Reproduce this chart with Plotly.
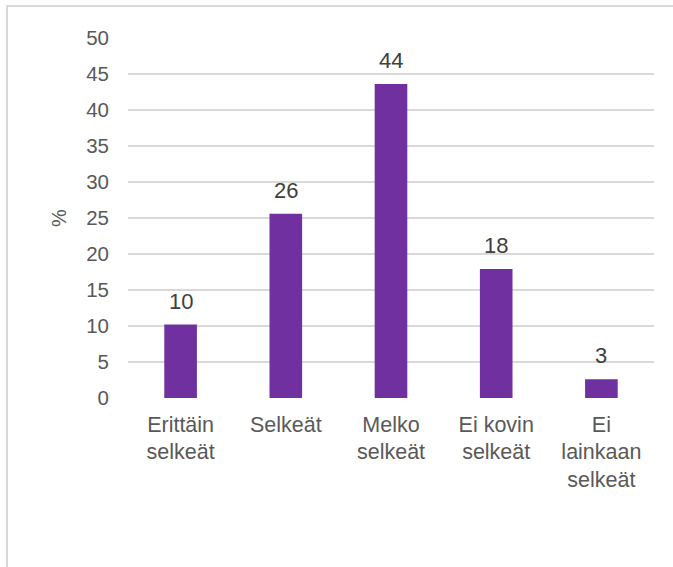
import plotly.graph_objects as go

categories = ["Erittäin<br>selkeät", "Selkeät", "Melko<br>selkeät", "Ei kovin<br>selkeät", "Ei<br>lainkaan<br>selkeät"]
values = [10.2, 25.6, 43.6, 17.9, 2.6]
y_ticks = [0, 5, 10, 15, 20, 25, 30, 35, 40, 45, 50]

W, H = 673, 567
L, R, T, B = 128, 19, 38, 169
pw, ph = W - L - R, H - T - B

fig = go.Figure(
    go.Bar(
        x=categories,
        y=values,
        marker=dict(color="#7030A0", line=dict(width=0)),
        width=0.31,
        hovertemplate="%{y}<extra></extra>",
    )
)

# value labels above each bar
for cat, val in zip(categories, values):
    fig.add_annotation(
        x=cat, y=val, text=f"{val:.0f}",
        showarrow=False, yanchor="bottom", yshift=9,
        font=dict(family="Liberation Sans, Arial", size=22, color="#404040"),
    )

# light frame around the chart area (top and left edges visible)
fig.add_shape(
    type="rect", xref="paper", yref="paper",
    x0=(7 - L) / pw, x1=(W + 20 - L) / pw,
    y0=-(B + 20) / ph, y1=(H - B - 6) / ph,
    line=dict(color="#d9d9d9", width=2),
    fillcolor="rgba(0,0,0,0)", layer="below",
)

fig.update_layout(
    width=W, height=H,
    margin=dict(l=L, r=R, t=T, b=B, autoexpand=False),
    paper_bgcolor="white", plot_bgcolor="white",
    showlegend=False,
    font=dict(family="Liberation Sans, Arial", color="#595959"),
    xaxis=dict(
        showgrid=False, showline=False, ticks="", zeroline=False,
        tickfont=dict(size=21.5, color="#595959"),
        ticklabelstandoff=11,
        fixedrange=True,
    ),
    yaxis=dict(
        range=[0, 50], tickvals=y_ticks, ticks="",
        showline=False, zeroline=False,
        showgrid=True, gridcolor="#d9d9d9", gridwidth=1.5,
        tickfont=dict(size=20.5, color="#595959"),
        ticklabelstandoff=18,
        title=dict(text="%", font=dict(size=20, color="#595959"), standoff=14),
        fixedrange=True,
    ),
)

fig.write_html("out.html")
